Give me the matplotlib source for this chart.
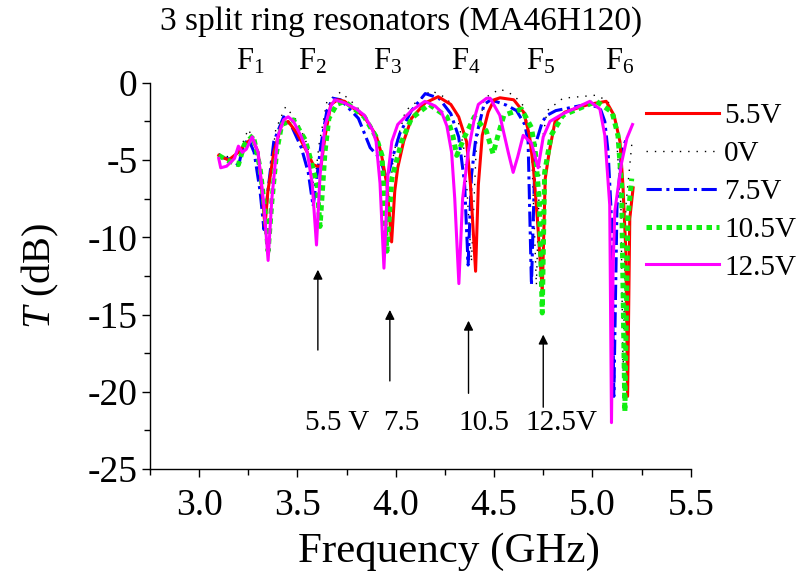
import matplotlib
matplotlib.use("Agg")
import matplotlib.pyplot as plt
from matplotlib.ticker import MultipleLocator, FormatStrFormatter

plt.rcParams["font.family"] = ["Liberation Serif", "DejaVu Serif"]
plt.rcParams["mathtext.fontset"] = "custom"
plt.rcParams["mathtext.rm"] = "Liberation Serif"
plt.rcParams["mathtext.it"] = "Liberation Serif:italic"
plt.rcParams["axes.unicode_minus"] = False

# Transmission spectra (GHz, dB)
f_55 = [3.10, 3.15, 3.20, 3.23, 3.27, 3.30, 3.32, 3.335, 3.35, 3.38, 3.42, 3.453, 3.50, 3.55, 3.58,
        3.60, 3.62, 3.64, 3.67, 3.705, 3.74, 3.84, 3.90, 3.925, 3.955, 3.979, 3.995, 4.01, 4.04, 4.08,
        4.15, 4.216, 4.28, 4.32, 4.36, 4.38, 4.406, 4.42, 4.44, 4.47, 4.50, 4.53, 4.60, 4.65, 4.68,
        4.70, 4.72, 4.745, 4.76, 4.78, 4.81, 4.86, 4.98, 5.07, 5.11, 5.14, 5.155, 5.17, 5.179, 5.19, 5.207]
t_55 = [-4.7, -5.0, -4.5, -4.0, -3.6, -4.5, -7.0, -9.3, -7.0, -4.5, -2.7, -2.5, -3.3, -4.5, -5.3,
        -5.4, -5.4, -3.5, -1.4, -1.1, -1.2, -2.2, -3.4, -4.5, -6.6, -10.3, -7.0, -5.5, -3.8, -2.3,
        -1.3, -0.9, -1.4, -2.2, -3.8, -6.6, -12.2, -6.6, -3.4, -1.9, -1.1, -0.97, -1.1, -1.9, -3.4,
        -5.5, -8.8, -13.5, -6.2, -4.5, -2.5, -1.9, -1.4, -1.2, -2.1, -3.8, -6.6, -10.9, -20.3, -8.8, -6.8]

f_0 = [3.10, 3.15, 3.20, 3.25, 3.29, 3.315, 3.335, 3.355, 3.39, 3.44, 3.50, 3.55, 3.585, 3.61, 3.65,
       3.72, 3.80, 3.88, 3.93, 3.965, 3.99, 4.05, 4.18, 4.26, 4.31, 4.35, 4.385, 4.41, 4.45, 4.53,
       4.60, 4.65, 4.69, 4.715, 4.735, 4.77, 4.85, 5.02, 5.08, 5.12, 5.145, 5.156, 5.17, 5.20]
t_0 = [-4.6, -4.8, -4.6, -3.0, -4.0, -6.5, -9.0, -6.5, -3.0, -1.55, -2.5, -4.0, -6.8, -4.0, -1.2,
       -0.6, -1.5, -3.0, -4.5, -7.8, -4.5, -1.8, -0.5, -1.0, -2.0, -4.5, -11.6, -4.0, -1.0, -0.4,
       -0.8, -1.5, -4.0, -13.1, -4.5, -1.8, -1.0, -0.8, -1.2, -3.0, -8.0, -18.8, -8.0, -4.0]

f_75 = [3.10, 3.14, 3.18, 3.20, 3.22, 3.25, 3.28, 3.31, 3.33, 3.35, 3.38, 3.43, 3.47, 3.52, 3.555,
        3.58, 3.60, 3.62, 3.65, 3.68, 3.72, 3.81, 3.87, 3.92, 3.955, 3.985, 4.02, 4.08, 4.15, 4.22,
        4.28, 4.32, 4.35, 4.368, 4.385, 4.407, 4.449, 4.484, 4.563, 4.614, 4.656, 4.673, 4.69, 4.71,
        4.746, 4.77, 4.814, 4.97, 5.038, 5.063, 5.08, 5.097, 5.109, 5.125, 5.148, 5.173]
t_75 = [-4.8, -4.9, -5.0, -5.4, -4.3, -3.6, -4.5, -7.0, -9.5, -7.0, -3.8, -2.2, -2.8, -4.2, -5.8,
        -8.0, -6.0, -4.0, -1.8, -1.0, -1.1, -2.3, -4.2, -4.9, -6.3, -4.8, -3.3, -1.8, -0.7, -1.0,
        -2.0, -3.5, -6.5, -11.8, -6.0, -3.6, -1.4, -1.1, -1.45, -1.8, -2.7, -3.8, -13.1, -4.0,
        -2.5, -2.1, -1.8, -1.4, -1.6, -2.5, -4.5, -8.8, -20.3, -8.0, -4.5, -3.6]

f_105 = [3.10, 3.14, 3.20, 3.23, 3.275, 3.31, 3.335, 3.351, 3.37, 3.394, 3.42, 3.48, 3.54, 3.57, 3.60,
         3.615, 3.64, 3.66, 3.70, 3.74, 3.84, 3.90, 3.93, 3.945, 3.955, 3.98, 4.03, 4.08, 4.17, 4.26,
         4.29, 4.31, 4.35, 4.40, 4.46, 4.495, 4.52, 4.55, 4.64, 4.69, 4.71, 4.73, 4.745, 4.757, 4.79,
         4.85, 5.02, 5.10, 5.13, 5.148, 5.165, 5.18, 5.20]
t_105 = [-4.7, -5.0, -5.3, -4.0, -3.4, -5.5, -8.3, -10.9, -7.7, -4.5, -2.7, -2.4, -3.7, -5.1, -6.6,
         -9.3, -4.5, -2.3, -1.4, -1.2, -2.2, -3.5, -4.7, -8.8, -10.9, -6.2, -3.8, -2.3, -1.4, -2.2,
         -3.4, -4.7, -3.5, -2.2, -3.1, -4.6, -3.4, -2.1, -1.7, -2.9, -4.5, -7.7, -14.9, -5.8, -3.4,
         -2.1, -1.2, -1.9, -3.4, -6.6, -21.3, -8.8, -6.2]

f_125 = [3.10, 3.11, 3.14, 3.18, 3.20, 3.22, 3.24, 3.27, 3.30, 3.33, 3.351, 3.37, 3.40, 3.43, 3.453,
         3.48, 3.52, 3.55, 3.575, 3.597, 3.615, 3.64, 3.67, 3.69, 3.74, 3.80, 3.84, 3.88, 3.90, 3.92,
         3.94, 3.96, 3.98, 4.01, 4.08, 4.148, 4.20, 4.233, 4.26, 4.284, 4.30, 4.321, 4.34, 4.368, 4.40,
         4.42, 4.462, 4.48, 4.529, 4.572, 4.597, 4.62, 4.648, 4.69, 4.724, 4.75, 4.784, 4.851, 4.92,
         4.987, 5.038, 5.063, 5.088, 5.097, 5.105, 5.114, 5.148, 5.175, 5.204]
t_125 = [-4.9, -5.5, -5.4, -4.9, -4.1, -4.5, -4.3, -3.5, -4.5, -8.0, -11.5, -7.5, -3.5, -2.4, -2.2,
         -2.5, -3.5, -4.5, -6.5, -10.5, -6.0, -2.8, -1.5, -1.1, -1.3, -1.7, -2.1, -3.0, -3.8, -6.5,
         -12.0, -6.0, -3.8, -2.7, -1.8, -1.2, -1.5, -1.9, -2.8, -4.5, -7.5, -13.0, -7.5, -4.5, -2.3,
         -1.4, -1.0, -1.0, -2.1, -4.5, -5.8, -4.8, -3.4, -3.9, -5.5, -3.5, -2.5, -2.0, -1.6,
         -1.2, -1.7, -3.4, -7.9, -22.0, -12.0, -8.3, -5.2, -3.6, -2.7]

# Resonance labels and bias annotations
res_labels = ["F$_1$", "F$_2$", "F$_3$", "F$_4$", "F$_5$", "F$_6$"]
res_pos = [3.26, 3.575, 3.96, 4.355, 4.735, 5.14]
bias_labels = ["5.5 V", "7.5", "10.5", "12.5V"]
bias_text_x = [3.70, 4.03, 4.45, 4.84]
arrow_x = [3.604, 3.97, 4.37, 4.75]
arrow_tip = [-12.1, -14.7, -15.4, -16.3]
arrow_tail = [-17.3, -19.3, -20.1, -21.0]

fig = plt.figure(figsize=(8.06, 5.79), dpi=100)
ax = fig.add_axes([0.186, 0.19, 0.671, 0.667])

ax.plot(f_0, t_0, color="k", linestyle=(0, (1, 5)), linewidth=1.0, label="0V", zorder=2)
ax.plot(f_75, t_75, color="#0000ff", linestyle=(0, (5, 1.5, 1, 1.5)), linewidth=2.2, label="7.5V", zorder=3)
ax.plot(f_55, t_55, color="#ff0000", linewidth=2.2, label="5.5V", zorder=4)
ax.plot(f_105, t_105, color="#11ee11", linestyle=(0, (1.1, 0.9)), linewidth=3.6, label="10.5V", zorder=5)
ax.plot(f_125, t_125, color="#ff00ff", linewidth=2.2, label="12.5V", zorder=6)

ax.set_xlim(2.75, 5.5)
ax.set_ylim(-25, 0)
ax.xaxis.set_major_locator(MultipleLocator(0.5))
ax.xaxis.set_minor_locator(MultipleLocator(0.25))
ax.yaxis.set_major_locator(MultipleLocator(5))
ax.yaxis.set_minor_locator(MultipleLocator(2.5))
ax.xaxis.set_major_formatter(FormatStrFormatter("%.1f"))
ax.spines["top"].set_visible(False)
ax.spines["right"].set_visible(False)
for s in ("left", "bottom"):
    ax.spines[s].set_linewidth(1.0)
ax.tick_params(which="major", direction="out", length=6, width=1.0, labelsize=27)
ax.tick_params(axis="x", which="major", pad=8)
ax.tick_params(axis="y", which="major", pad=3)
ax.tick_params(which="minor", direction="out", length=4, width=1.0)

ax.set_xlabel("Frequency (GHz)", fontsize=31)
ax.xaxis.set_label_coords(0.553, -0.165)
ax.set_ylabel("$T$ (dB)", fontsize=29)
ax.yaxis.set_label_coords(-0.165, 0.5)

fig.text(0.497, 0.962, "3 split ring resonators (MA46H120)", fontsize=24, ha="center", va="center")

for lab, x in zip(res_labels, res_pos):
    ax.text(x, 1.35, lab, fontsize=22, ha="center", va="center", clip_on=False)

for x, tip, tail in zip(arrow_x, arrow_tip, arrow_tail):
    ax.annotate("", xy=(x, tip), xytext=(x, tail),
                arrowprops=dict(arrowstyle="-|>", color="k", lw=1.0, mutation_scale=14,
                                shrinkA=0, shrinkB=0))
for lab, x in zip(bias_labels, bias_text_x):
    ax.text(x, -22.0, lab, fontsize=21, ha="center", va="center")

handles, labels = ax.get_legend_handles_labels()
order = [labels.index(k) for k in ["5.5V", "0V", "7.5V", "10.5V", "12.5V"]]
fig.legend([handles[i] for i in order], [labels[i] for i in order],
           loc="upper left", bbox_to_anchor=(0.801, 0.822), frameon=False,
           fontsize=21, handlelength=2.5, handletextpad=0.2, labelspacing=0.39,
           borderpad=0, borderaxespad=0)

fig.savefig("out.png", dpi=100)
